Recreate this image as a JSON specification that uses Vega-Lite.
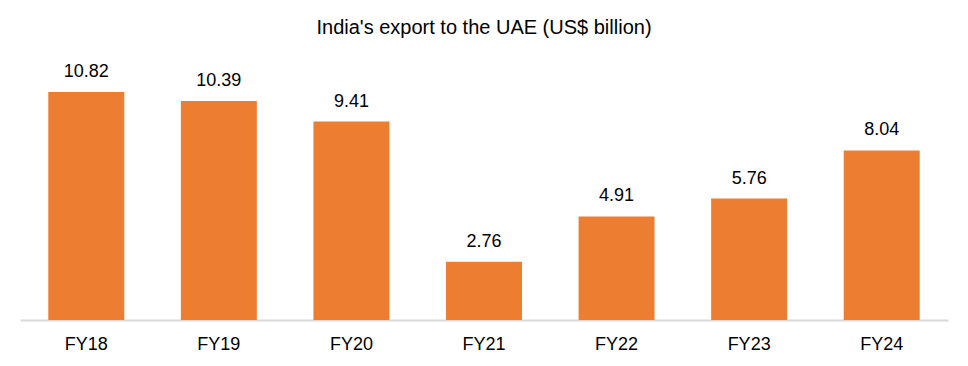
{
  "$schema": "https://vega.github.io/schema/vega-lite/v6.json",
  "width": 928,
  "height": 253,
  "autosize": {"type": "none"},
  "padding": {"left": 20, "top": 67, "right": 20, "bottom": 46},
  "background": "white",
  "config": {"view": {"stroke": null}, "font": "Liberation Sans"},
  "title": {
    "text": "India's export to the UAE (US$ billion)",
    "fontSize": 20,
    "fontWeight": "normal",
    "color": "#000000",
    "font": "Liberation Sans",
    "anchor": "middle",
    "baseline": "alphabetic",
    "offset": 9
  },
  "data": {
    "values": [
      {"year": "FY18", "value": 10.82},
      {"year": "FY19", "value": 10.39},
      {"year": "FY20", "value": 9.41},
      {"year": "FY21", "value": 2.76},
      {"year": "FY22", "value": 4.91},
      {"year": "FY23", "value": 5.76},
      {"year": "FY24", "value": 8.04}
    ]
  },
  "encoding": {
    "x": {
      "field": "year",
      "type": "nominal",
      "sort": null,
      "scale": {"paddingInner": 0.427, "paddingOuter": 0.2135},
      "axis": {
        "title": null,
        "labelAngle": 0,
        "labelFontSize": 18,
        "labelColor": "#000000",
        "labelFont": "Liberation Sans",
        "labelBaseline": "alphabetic",
        "labelPadding": 29,
        "ticks": false,
        "domainColor": "#D9D9D9",
        "domainWidth": 2,
        "grid": false
      }
    },
    "y": {
      "field": "value",
      "type": "quantitative",
      "scale": {"domain": [0, 12], "nice": false},
      "axis": null
    }
  },
  "layer": [
    {"mark": {"type": "bar", "color": "#ED7D31"}},
    {
      "mark": {"type": "text", "baseline": "alphabetic", "dy": -15, "fontSize": 18, "color": "#000000", "font": "Liberation Sans"},
      "encoding": {"text": {"field": "value", "type": "quantitative", "format": ".2f"}}
    }
  ]
}
